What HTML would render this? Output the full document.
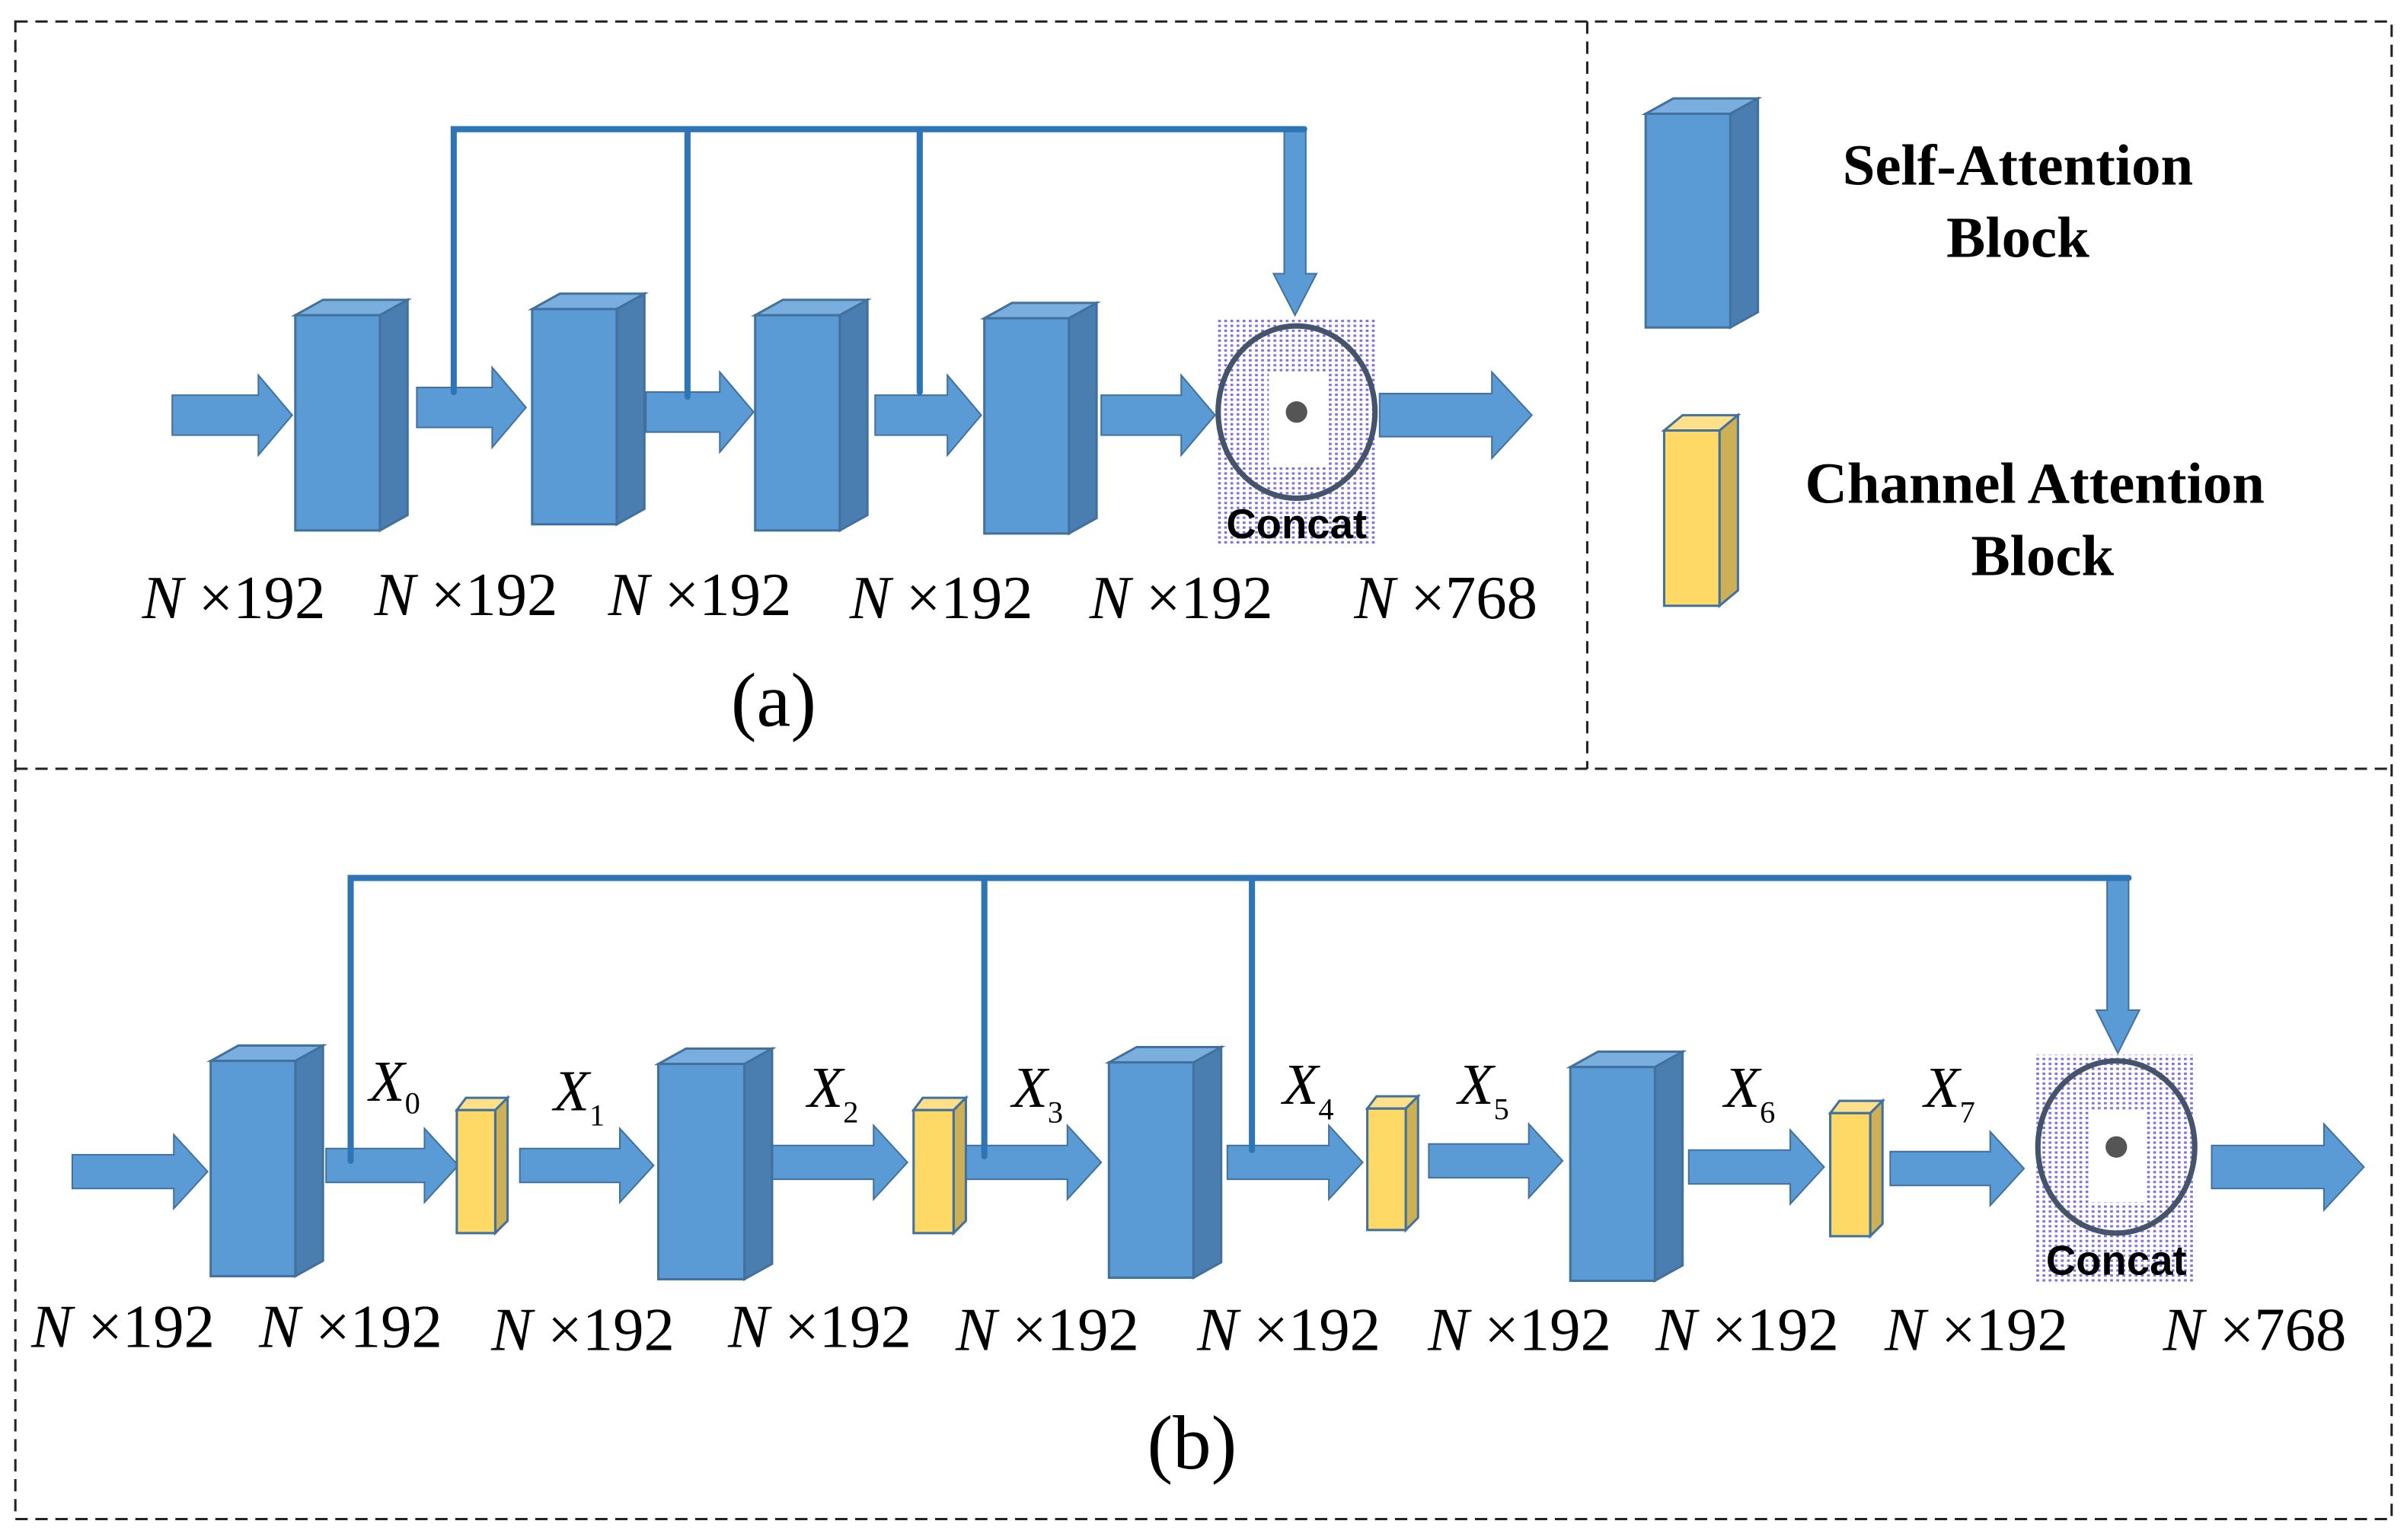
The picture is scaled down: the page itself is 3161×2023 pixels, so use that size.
<!DOCTYPE html>
<html><head><meta charset="utf-8"><style>html,body{margin:0;padding:0;background:#fff}svg{display:block}</style></head>
<body>
<svg width="3161" height="2023" viewBox="0 0 1565 1001.6" preserveAspectRatio="none" xmlns="http://www.w3.org/2000/svg">
<defs>
<pattern id="dots" width="4" height="3.2" patternUnits="userSpaceOnUse"><rect x="0" y="0" width="1.8" height="1.5" fill="#7f6ee0"/></pattern>
<pattern id="dots2" width="4" height="3.2" patternUnits="userSpaceOnUse"><rect x="0" y="0" width="1.8" height="1.5" fill="#5fb8ef"/></pattern>
<linearGradient id="fade" x1="0" y1="0" x2="1" y2="1"><stop offset="0" stop-color="#fff" stop-opacity="0"/><stop offset="1" stop-color="#fff" stop-opacity="1"/></linearGradient>
</defs>
<g fill="none" stroke="#222" stroke-width="1.5" stroke-dasharray="8,5">
<rect x="10" y="14" width="1545" height="974"/>
<line x1="10" y1="500" x2="1555" y2="500"/>
<line x1="1032" y1="14" x2="1032" y2="500"/>
</g>
<g>
<rect x="790" y="207" width="105" height="148" fill="url(#dots)"/>
<rect x="825" y="243" width="38" height="60" fill="#fff"/>
<ellipse cx="843" cy="268" rx="51" ry="56" fill="none" stroke="#44546a" stroke-width="3.5"/>
<circle cx="843" cy="268" r="7" fill="#555"/>
<text x="843" y="350" font-family="Liberation Sans, sans-serif" font-weight="bold" font-size="27" text-anchor="middle">Concat</text>
</g>
<g>
<rect x="1323" y="686" width="105" height="148" fill="url(#dots)"/>
<rect x="1358" y="722" width="38" height="60" fill="#fff"/>
<ellipse cx="1376" cy="746" rx="51" ry="56" fill="none" stroke="#44546a" stroke-width="3.5"/>
<circle cx="1376" cy="746" r="7" fill="#555"/>
<text x="1376" y="829" font-family="Liberation Sans, sans-serif" font-weight="bold" font-size="27" text-anchor="middle">Concat</text>
</g>
<g fill="#5b9bd5" stroke="#41719c" stroke-width="1">
<path d="M112,257H168V244L190,270L168,296V283H112Z"/>
<path d="M271,252H320V239L342,265L320,291V278H271Z"/>
<path d="M420,255H468V242L490,268L468,294V281H420Z"/>
<path d="M569,257H616V244L638,270L616,296V283H569Z"/>
<path d="M716,257H768V244L790,270L768,296V283H716Z"/>
<path d="M897,256H970V242L996,270L970,298V284H897Z"/>
<path d="M835,84H849V178H856L842,205L828,178H835Z"/>
<path d="M47,751H113V738L135,762L113,786V773H47Z"/>
<path d="M212,747H276V734L298,758L276,782V769H212Z"/>
<path d="M338,747H403V734L425,758L403,782V769H338Z"/>
<path d="M502,745H568V732L590,756L568,780V767H502Z"/>
<path d="M628,745H694V732L716,756L694,780V767H628Z"/>
<path d="M798,745H864V732L886,756L864,780V767H798Z"/>
<path d="M929,744H994V731L1016,755L994,779V766H929Z"/>
<path d="M1098,748H1164V735L1186,759L1164,783V770H1098Z"/>
<path d="M1229,749H1294V736L1316,760L1294,784V771H1229Z"/>
<path d="M1438,745H1511V731L1537,759L1511,787V773H1438Z"/>
<path d="M1370,571H1384V657H1391L1377,685L1363,657H1370Z"/>
</g>
<g stroke="#2e75b6" stroke-width="4" fill="none" stroke-linecap="round">
<path d="M295,255V84H848M447,84V258M598,84V255"/>
<path d="M228,755V571H1384M640,571V752M814,571V748"/>
</g>
<g stroke="#41719c" stroke-width="1.5">
<path fill="#7aaedf" d="M192,205L210,195H265L247,205Z"/><path fill="#4a7eb0" d="M247,205L265,195V335L247,345Z"/><rect fill="#5b9bd5" x="192" y="205" width="55" height="140"/>
<path fill="#7aaedf" d="M346,201L364,191H419L401,201Z"/><path fill="#4a7eb0" d="M401,201L419,191V331L401,341Z"/><rect fill="#5b9bd5" x="346" y="201" width="55" height="140"/>
<path fill="#7aaedf" d="M491,205L509,195H564L546,205Z"/><path fill="#4a7eb0" d="M546,205L564,195V335L546,345Z"/><rect fill="#5b9bd5" x="491" y="205" width="55" height="140"/>
<path fill="#7aaedf" d="M640,207L658,197H713L695,207Z"/><path fill="#4a7eb0" d="M695,207L713,197V337L695,347Z"/><rect fill="#5b9bd5" x="640" y="207" width="55" height="140"/>
<path fill="#7aaedf" d="M1070,74L1088,64H1143L1125,74Z"/><path fill="#4a7eb0" d="M1125,74L1143,64V203L1125,213Z"/><rect fill="#5b9bd5" x="1070" y="74" width="55" height="139"/>
<path fill="#7aaedf" d="M137,690L155,680H210L192,690Z"/><path fill="#4a7eb0" d="M192,690L210,680V820L192,830Z"/><rect fill="#5b9bd5" x="137" y="690" width="55" height="140"/>
<path fill="#7aaedf" d="M428,692L446,682H502L484,692Z"/><path fill="#4a7eb0" d="M484,692L502,682V822L484,832Z"/><rect fill="#5b9bd5" x="428" y="692" width="56" height="140"/>
<path fill="#7aaedf" d="M721,691L739,681H794L776,691Z"/><path fill="#4a7eb0" d="M776,691L794,681V821L776,831Z"/><rect fill="#5b9bd5" x="721" y="691" width="55" height="140"/>
<path fill="#7aaedf" d="M1021,694L1039,684H1094L1076,694Z"/><path fill="#4a7eb0" d="M1076,694L1094,684V823L1076,833Z"/><rect fill="#5b9bd5" x="1021" y="694" width="55" height="139"/>
<path fill="#ffe08a" d="M1082,280L1094,270H1130L1118,280Z"/><path fill="#cdb055" d="M1118,280L1130,270V384L1118,394Z"/><rect fill="#ffd966" x="1082" y="280" width="36" height="114"/>
<path fill="#ffe08a" d="M297,722L303,714H330L322,722Z"/><path fill="#cdb055" d="M322,722L330,714V794L322,802Z"/><rect fill="#ffd966" x="297" y="722" width="25" height="80"/>
<path fill="#ffe08a" d="M594,722L600,714H628L620,722Z"/><path fill="#cdb055" d="M620,722L628,714V794L620,802Z"/><rect fill="#ffd966" x="594" y="722" width="26" height="80"/>
<path fill="#ffe08a" d="M889,721L895,713H922L914,721Z"/><path fill="#cdb055" d="M914,721L922,713V792L914,800Z"/><rect fill="#ffd966" x="889" y="721" width="25" height="79"/>
<path fill="#ffe08a" d="M1190,724L1196,716H1224L1216,724Z"/><path fill="#cdb055" d="M1216,724L1224,716V796L1216,804Z"/><rect fill="#ffd966" x="1190" y="724" width="26" height="80"/>
</g>
<g font-family="Liberation Serif, serif" font-size="40" text-anchor="middle" fill="#000">
<text x="152" y="402"><tspan font-style="italic">N</tspan> ×192</text>
<text x="303" y="400"><tspan font-style="italic">N</tspan> ×192</text>
<text x="455" y="400"><tspan font-style="italic">N</tspan> ×192</text>
<text x="612" y="402"><tspan font-style="italic">N</tspan> ×192</text>
<text x="768" y="402"><tspan font-style="italic">N</tspan> ×192</text>
<text x="940" y="402"><tspan font-style="italic">N</tspan> ×768</text>
<text x="503" y="472" font-size="50">(a)</text>
<text x="80" y="876"><tspan font-style="italic">N</tspan> ×192</text>
<text x="228" y="876"><tspan font-style="italic">N</tspan> ×192</text>
<text x="379" y="878"><tspan font-style="italic">N</tspan> ×192</text>
<text x="533" y="876"><tspan font-style="italic">N</tspan> ×192</text>
<text x="681" y="878"><tspan font-style="italic">N</tspan> ×192</text>
<text x="838" y="878"><tspan font-style="italic">N</tspan> ×192</text>
<text x="988" y="878"><tspan font-style="italic">N</tspan> ×192</text>
<text x="1136" y="878"><tspan font-style="italic">N</tspan> ×192</text>
<text x="1285" y="878"><tspan font-style="italic">N</tspan> ×192</text>
<text x="1466" y="878"><tspan font-style="italic">N</tspan> ×768</text>
<text x="775" y="955" font-size="50">(b)</text>
</g>
<g font-family="Liberation Serif, serif" font-size="38" fill="#000" font-style="italic">
<text x="240" y="716">X<tspan font-size="20" font-style="normal" dy="8">0</tspan></text>
<text x="360" y="722">X<tspan font-size="20" font-style="normal" dy="10">1</tspan></text>
<text x="525" y="720">X<tspan font-size="20" font-style="normal" dy="10">2</tspan></text>
<text x="658" y="720">X<tspan font-size="20" font-style="normal" dy="10">3</tspan></text>
<text x="834" y="718">X<tspan font-size="20" font-style="normal" dy="10">4</tspan></text>
<text x="948" y="718">X<tspan font-size="20" font-style="normal" dy="10">5</tspan></text>
<text x="1121" y="720">X<tspan font-size="20" font-style="normal" dy="10">6</tspan></text>
<text x="1251" y="720">X<tspan font-size="20" font-style="normal" dy="10">7</tspan></text>
</g>
<g font-family="Liberation Serif, serif" font-weight="bold" font-size="38" text-anchor="middle" fill="#000">
<text x="1312" y="120">Self-Attention</text>
<text x="1312" y="167">Block</text>
<text x="1323" y="327">Channel Attention</text>
<text x="1328" y="374">Block</text>
</g>
</svg>
</body></html>
